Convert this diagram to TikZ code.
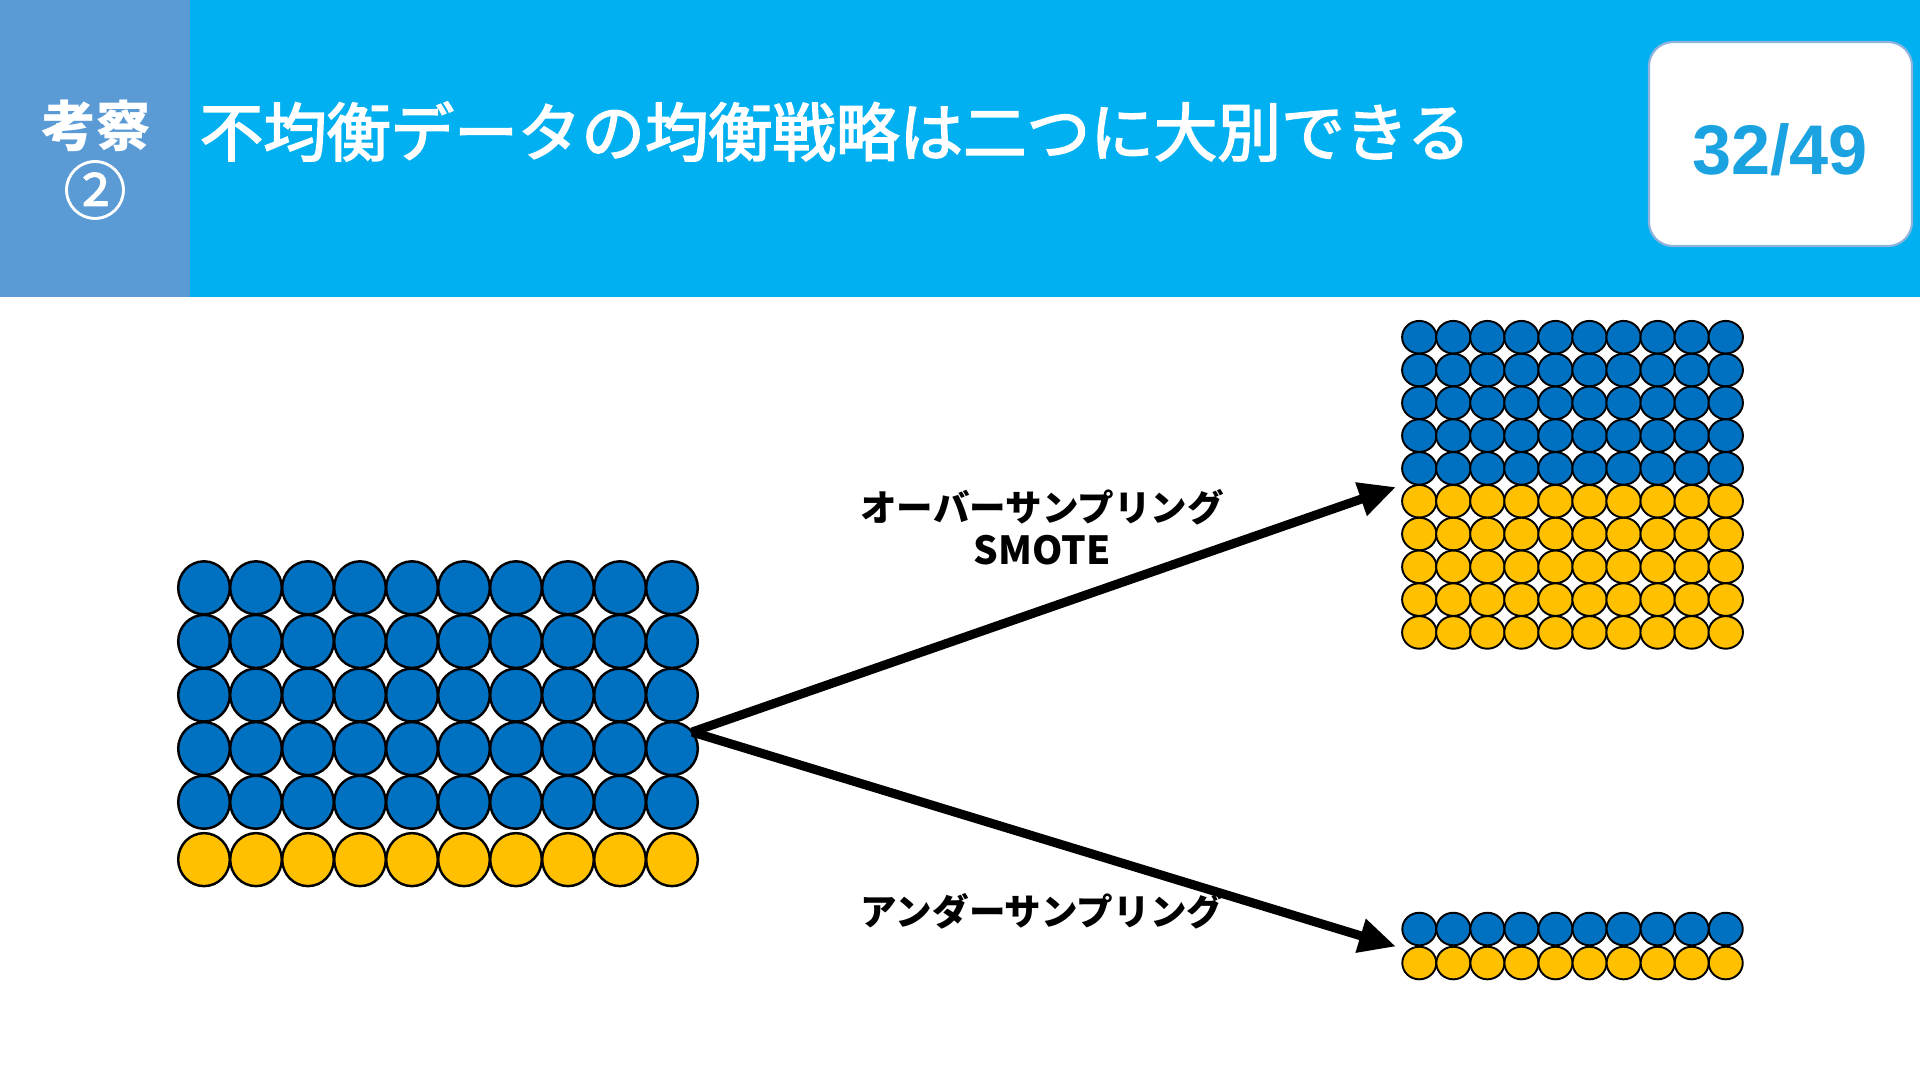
\documentclass[tikz,border=0pt]{standalone}
\usepackage{fontspec}
\usetikzlibrary{arrows.meta}
\newfontfamily\jp{Noto Sans CJK JP}
\newfontfamily\jpt[FakeBold=2.5]{Noto Sans CJK JP}
\newfontfamily\jpc[FakeBold=1.2]{Noto Sans CJK JP}
\newfontfamily\arialf{Liberation Sans}
\definecolor{hdr}{HTML}{00B0F0}
\definecolor{side}{HTML}{5B9BD5}
\definecolor{cblue}{HTML}{0070C0}
\definecolor{cyel}{HTML}{FFC000}
\definecolor{pgnum}{HTML}{1AA3E0}
\definecolor{boxline}{HTML}{8FB3DC}
\begin{document}
\begin{tikzpicture}[x=0.1mm,y=-0.1mm,
  bigc/.style={draw=black,line width=0.7pt},
  smallc/.style={draw=black,line width=0.55pt},
  bigarrow/.style={line width=0.9mm,-{Triangle[length=3.7mm,width=3.3mm]}},
  lbl/.style={inner sep=0pt,anchor=base,font=\jp\bfseries\fontsize{10.4pt}{12pt}\selectfont},
  hdrtxt/.style={inner sep=0pt,text=white}]
\useasboundingbox (0,0) rectangle (1920,1080);
\fill[white] (0,0) rectangle (1920,1080);
% header
\fill[hdr] (0,0) rectangle (1920,297);
\fill[side] (0,0) rectangle (190,297);
\node[hdrtxt,anchor=base] (kousatsu) at (96,146) {\jp\bfseries\fontsize{15.5pt}{18pt}\selectfont 考察};
\node[hdrtxt,anchor=base] (num) at (95,214) {\jpc\fontsize{18pt}{20pt}\selectfont ②};
\node[hdrtxt,anchor=base west] (title) at (199,156) {\jpt\fontsize{18.1pt}{22pt}\selectfont 不均衡データの均衡戦略は二つに大別できる};
% page box
\draw[boxline,fill=white,line width=0.6pt,rounded corners=2.4mm] (1649,42) rectangle (1912,246);
\node[inner sep=0pt,anchor=base,text=pgnum] (page) at (1780,174) {\arialf\bfseries\fontsize{20pt}{24pt}\selectfont 32/49};
% left grid
\foreach \i in {0,...,9}{
  \foreach \j in {0,...,4}{
    \draw[bigc,fill=cblue] ({204+52*\i},{587.8+53.6*\j}) ellipse [x radius=2.58mm, y radius=2.65mm];
  }
  \draw[bigc,fill=cyel] ({204+52*\i},859.6) ellipse [x radius=2.58mm, y radius=2.65mm];
}
% right upper grid
\foreach \i in {0,...,9}{
  \foreach \j in {0,...,4}{
    \draw[smallc,fill=cblue] ({1419.3+34.05*\i},{337.2+32.8*\j}) ellipse [x radius=1.72mm, y radius=1.63mm];
    \draw[smallc,fill=cyel] ({1419.3+34.05*\i},{337.2+32.8*(\j+5)}) ellipse [x radius=1.72mm, y radius=1.63mm];
  }
  \draw[smallc,fill=cblue] ({1419.3+34.05*\i},929) ellipse [x radius=1.7mm, y radius=1.63mm];
  \draw[smallc,fill=cyel] ({1419.3+34.05*\i},963) ellipse [x radius=1.7mm, y radius=1.63mm];
}
% arrows
\coordinate (src) at (692,732);
\coordinate (overtip) at (1396,487);
\coordinate (undertip) at (1396,946.5);
\draw[bigarrow] (src) -- (overtip);
\draw[bigarrow] (src) -- (undertip);
% labels
\node[lbl] (over) at (1042,521.5) {オーバーサンプリング};
\node[lbl,font=\jp\bfseries\fontsize{11pt}{14pt}\selectfont] (smote) at (1042,564) {SMOTE};
\node[lbl] (under) at (1042,925.5) {アンダーサンプリング};
\end{tikzpicture}
\end{document}
